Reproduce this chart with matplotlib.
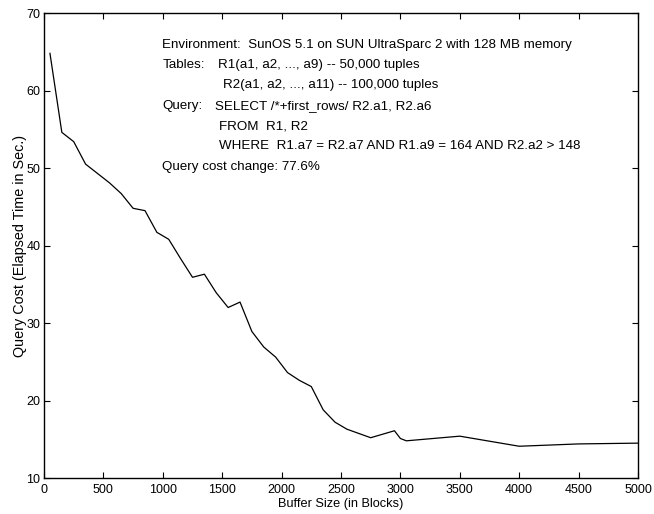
import matplotlib
matplotlib.use("Agg")
import matplotlib.pyplot as plt

plt.rcParams['font.family'] = ['Liberation Sans', 'DejaVu Sans']

buffer_blocks = [50, 150, 250, 350, 450, 550, 650, 750, 850, 950, 1050, 1150,
                 1250, 1350, 1450, 1550, 1650, 1750, 1850, 1950, 2050, 2150,
                 2250, 2350, 2450, 2550, 2750, 2950, 3000, 3050, 3500, 4000,
                 4500, 5000]
query_cost = [64.8, 54.6, 53.4, 50.5, 49.3, 48.1, 46.7, 44.8, 44.5, 41.7, 40.8, 38.3,
              35.9, 36.3, 33.9, 32.0, 32.7, 28.9, 26.9, 25.6, 23.6, 22.6,
              21.8, 18.8, 17.2, 16.3, 15.2, 16.1, 15.1, 14.8, 15.4, 14.1,
              14.4, 14.5]

x_ticks = [0, 500, 1000, 1500, 2000, 2500, 3000, 3500, 4000, 4500, 5000]
y_ticks = [10, 20, 30, 40, 50, 60, 70]

fig = plt.figure(figsize=(6.54, 5.14), dpi=100)
ax = fig.add_axes([0.0673, 0.070, 0.9082, 0.9047])

ax.plot(buffer_blocks, query_cost, color='black', linewidth=0.9)

ax.set_xlim(0, 5000)
ax.set_ylim(10, 70)
ax.set_xticks(x_ticks)
ax.set_yticks(y_ticks)
ax.tick_params(direction='in', top=True, right=True, length=4, width=0.8,
               labelsize=9)
ax.tick_params(axis='x', pad=4.5)
ax.tick_params(axis='y', pad=2.5)
for s in ax.spines.values():
    s.set_linewidth(1.0)

ax.set_xlabel('Buffer Size (in Blocks)', fontsize=9.2, labelpad=1.5)
ax.set_ylabel('Query Cost (Elapsed Time in Sec.)', fontsize=10.4, labelpad=0)

fs = 9.6
# (x, line index, text)
notes = [
    (997, 0, 'Environment:  SunOS 5.1 on SUN UltraSparc 2 with 128 MB memory'),
    (997, 1, 'Tables:'),
    (1462, 1, 'R1(a1, a2, ..., a9) -- 50,000 tuples'),
    (1503, 2, 'R2(a1, a2, ..., a11) -- 100,000 tuples'),
    (997, 3, 'Query:'),
    (1440, 3, 'SELECT /*+first_rows/ R2.a1, R2.a6'),
    (1473, 4, 'FROM  R1, R2'),
    (1473, 5, 'WHERE  R1.a7 = R2.a7 AND R1.a9 = 164 AND R2.a2 > 148'),
    (997, 6, 'Query cost change: 77.6%'),
]
y0 = 65.9
for xpos, line, txt in notes:
    ax.text(xpos, y0 - line * 2.62, txt, fontsize=fs, va='center', ha='left')

fig.savefig('out.png', dpi=100)
